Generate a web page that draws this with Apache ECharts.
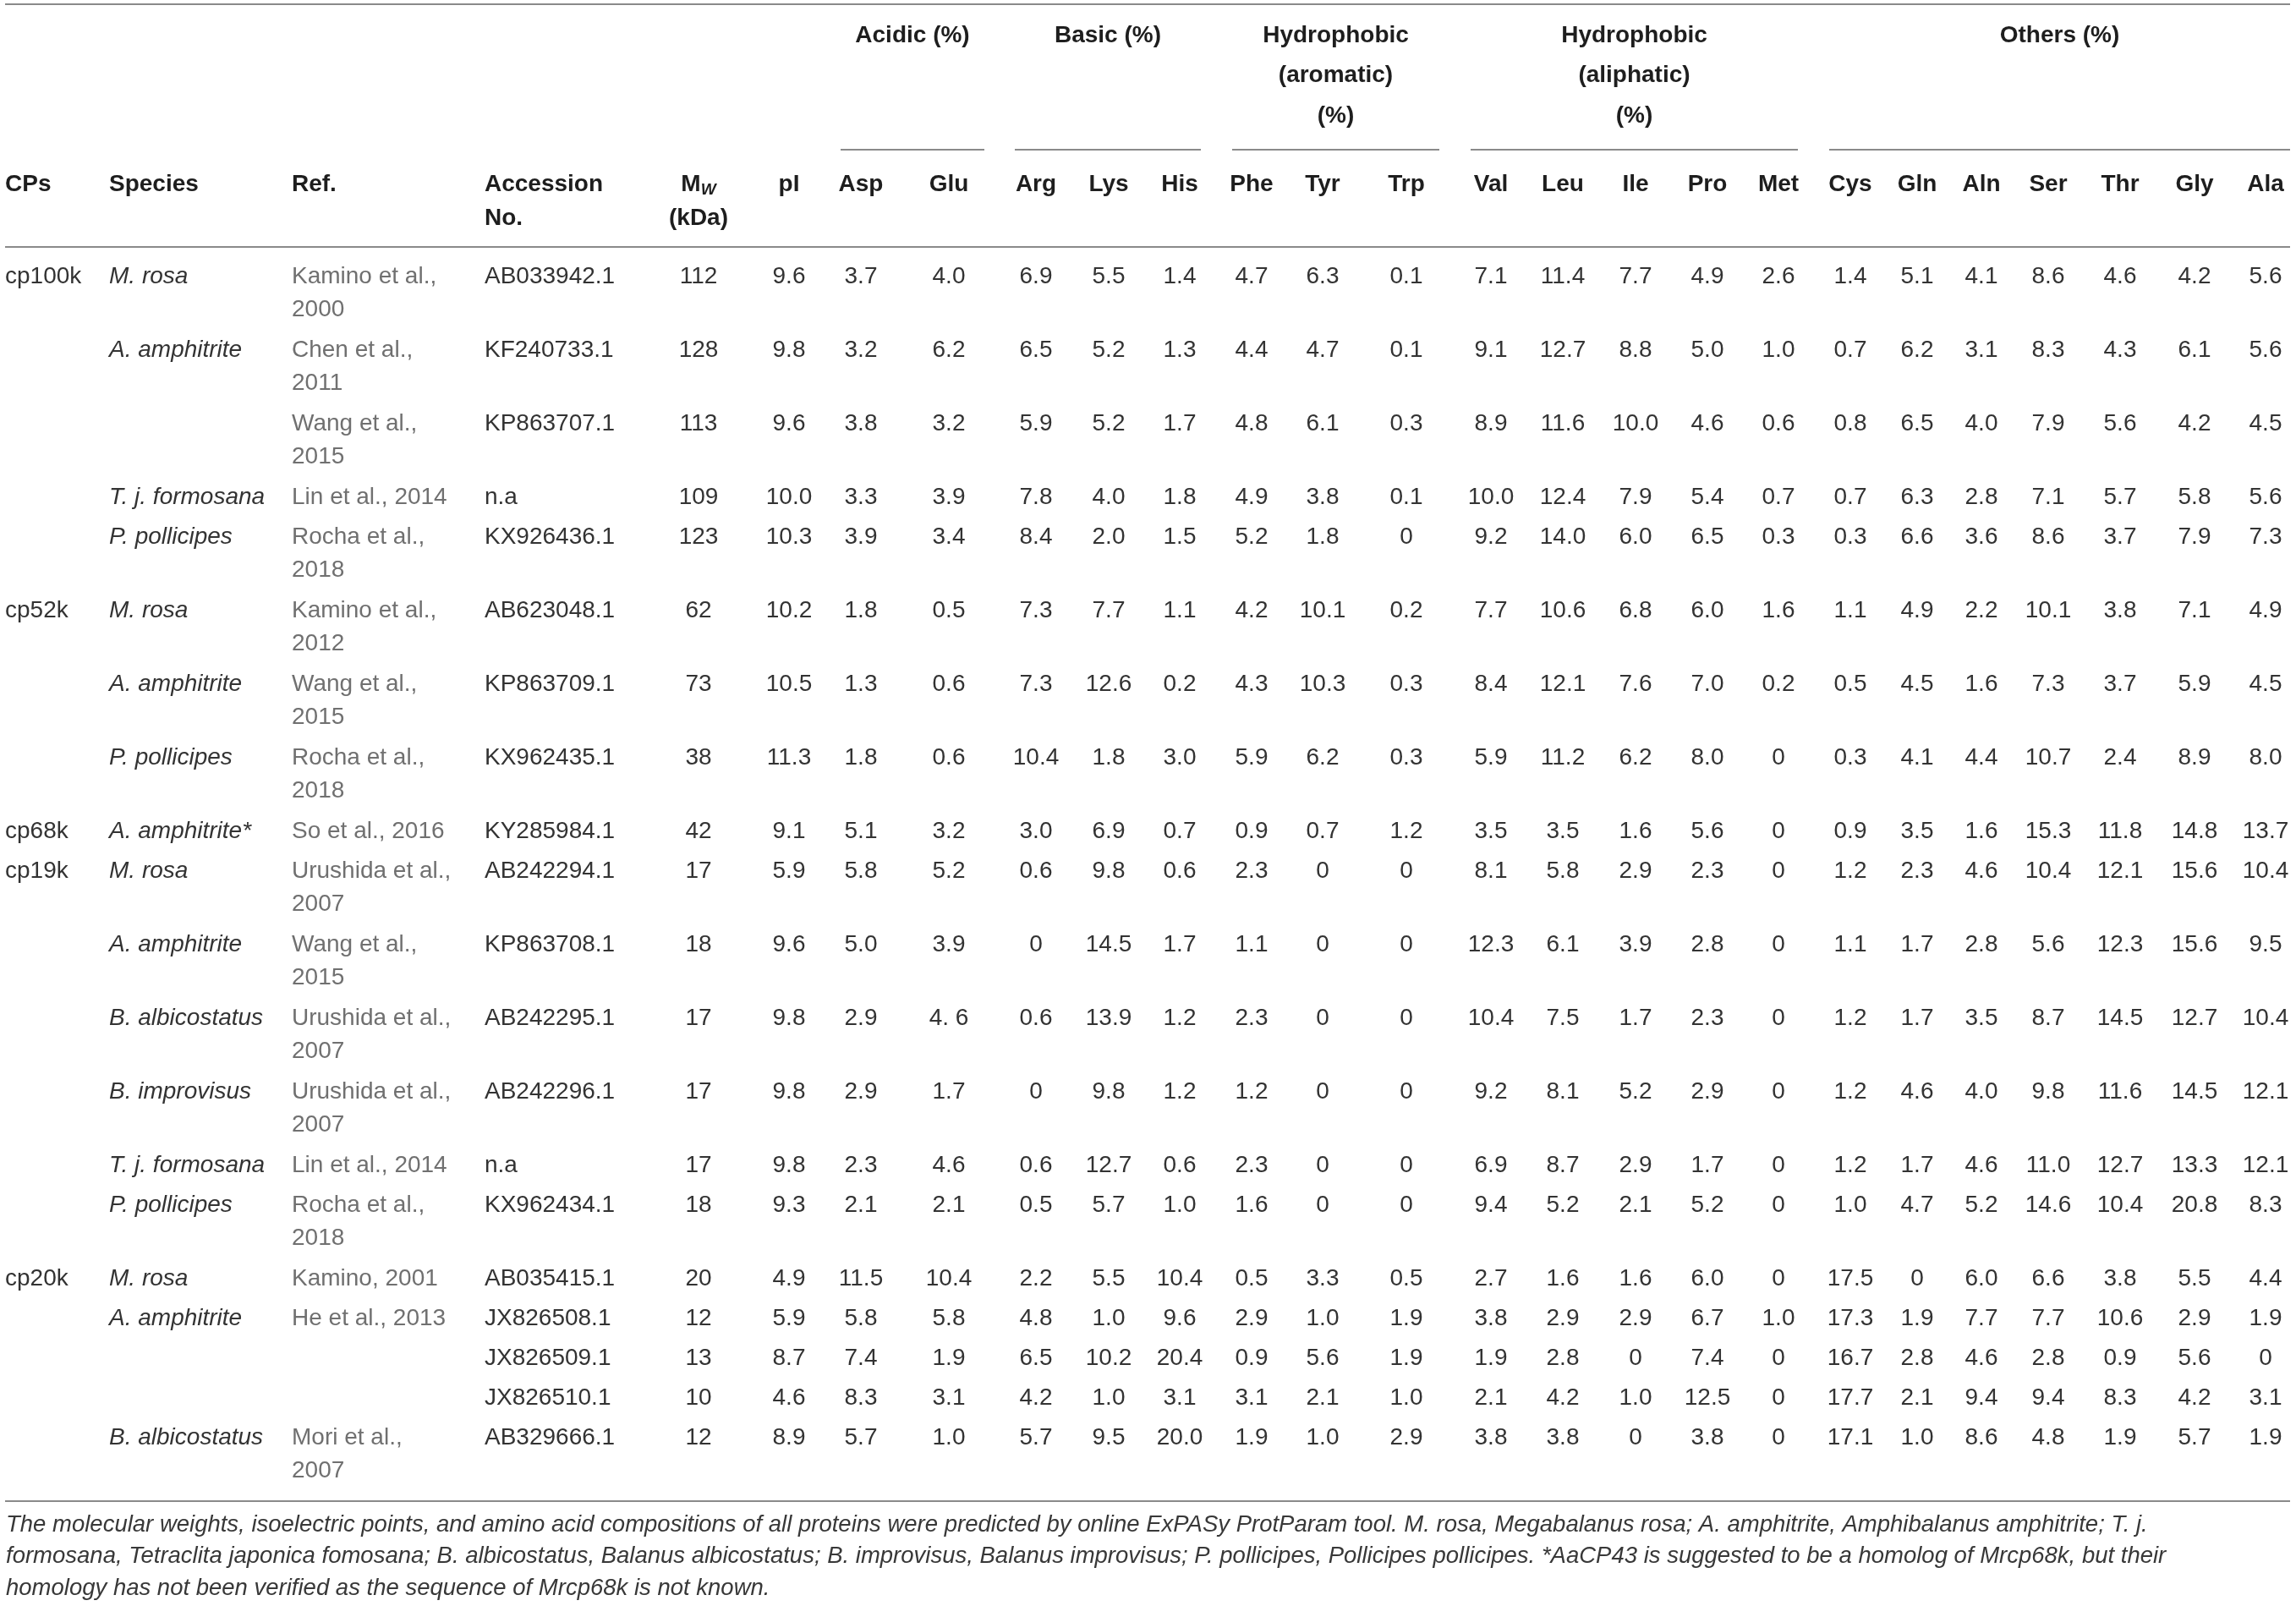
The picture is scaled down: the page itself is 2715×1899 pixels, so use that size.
<!DOCTYPE html>
<html>
<head>
<meta charset="utf-8">
<script src="https://cdn.jsdelivr.net/npm/echarts/dist/echarts.min.js"></script>
<style>
html,body{margin:0;padding:0;background:#ffffff;}
#chart{width:2715px;height:1899px;}
</style>
</head>
<body>
<div id="chart"></div>
<script>
// ================= DATA =================
const cps = ['cp100k','','','','','cp52k','','','cp68k','cp19k','','','','','','cp20k','','','',''];
const species = ['M. rosa','A. amphitrite','','T. j. formosana','P. pollicipes','M. rosa','A. amphitrite','P. pollicipes','A. amphitrite*','M. rosa','A. amphitrite','B. albicostatus','B. improvisus','T. j. formosana','P. pollicipes','M. rosa','A. amphitrite','','','B. albicostatus'];
const refs = ['Kamino et al., 2000','Chen et al., 2011','Wang et al., 2015','Lin et al., 2014','Rocha et al., 2018','Kamino et al., 2012','Wang et al., 2015','Rocha et al., 2018','So et al., 2016','Urushida et al., 2007','Wang et al., 2015','Urushida et al., 2007','Urushida et al., 2007','Lin et al., 2014','Rocha et al., 2018','Kamino, 2001','He et al., 2013','','','Mori et al., 2007'];
const accession = ['AB033942.1','KF240733.1','KP863707.1','n.a','KX926436.1','AB623048.1','KP863709.1','KX962435.1','KY285984.1','AB242294.1','KP863708.1','AB242295.1','AB242296.1','n.a','KX962434.1','AB035415.1','JX826508.1','JX826509.1','JX826510.1','AB329666.1'];
const mw = [112,128,113,109,123,62,73,38,42,17,18,17,17,17,18,20,12,13,10,12];
const pI = [9.6,9.8,9.6,10.0,10.3,10.2,10.5,11.3,9.1,5.9,9.6,9.8,9.8,9.8,9.3,4.9,5.9,8.7,4.6,8.9];
// Acidic (%)
const asp = [3.7,3.2,3.8,3.3,3.9,1.8,1.3,1.8,5.1,5.8,5.0,2.9,2.9,2.3,2.1,11.5,5.8,7.4,8.3,5.7];
const glu = [4.0,6.2,3.2,3.9,3.4,0.5,0.6,0.6,3.2,5.2,3.9,'4. 6',1.7,4.6,2.1,10.4,5.8,1.9,3.1,1.0];
// Basic (%)
const arg = [6.9,6.5,5.9,7.8,8.4,7.3,7.3,10.4,3.0,0.6,0,0.6,0,0.6,0.5,2.2,4.8,6.5,4.2,5.7];
const lys = [5.5,5.2,5.2,4.0,2.0,7.7,12.6,1.8,6.9,9.8,14.5,13.9,9.8,12.7,5.7,5.5,1.0,10.2,1.0,9.5];
const his = [1.4,1.3,1.7,1.8,1.5,1.1,0.2,3.0,0.7,0.6,1.7,1.2,1.2,0.6,1.0,10.4,9.6,20.4,3.1,20.0];
// Hydrophobic (aromatic) (%)
const phe = [4.7,4.4,4.8,4.9,5.2,4.2,4.3,5.9,0.9,2.3,1.1,2.3,1.2,2.3,1.6,0.5,2.9,0.9,3.1,1.9];
const tyr = [6.3,4.7,6.1,3.8,1.8,10.1,10.3,6.2,0.7,0,0,0,0,0,0,3.3,1.0,5.6,2.1,1.0];
const trp = [0.1,0.1,0.3,0.1,0,0.2,0.3,0.3,1.2,0,0,0,0,0,0,0.5,1.9,1.9,1.0,2.9];
// Hydrophobic (aliphatic) (%)
const val = [7.1,9.1,8.9,10.0,9.2,7.7,8.4,5.9,3.5,8.1,12.3,10.4,9.2,6.9,9.4,2.7,3.8,1.9,2.1,3.8];
const leu = [11.4,12.7,11.6,12.4,14.0,10.6,12.1,11.2,3.5,5.8,6.1,7.5,8.1,8.7,5.2,1.6,2.9,2.8,4.2,3.8];
const ile = [7.7,8.8,10.0,7.9,6.0,6.8,7.6,6.2,1.6,2.9,3.9,1.7,5.2,2.9,2.1,1.6,2.9,0,1.0,0];
const pro = [4.9,5.0,4.6,5.4,6.5,6.0,7.0,8.0,5.6,2.3,2.8,2.3,2.9,1.7,5.2,6.0,6.7,7.4,12.5,3.8];
const met = [2.6,1.0,0.6,0.7,0.3,1.6,0.2,0,0,0,0,0,0,0,0,0,1.0,0,0,0];
// Others (%)
const cys = [1.4,0.7,0.8,0.7,0.3,1.1,0.5,0.3,0.9,1.2,1.1,1.2,1.2,1.2,1.0,17.5,17.3,16.7,17.7,17.1];
const gln = [5.1,6.2,6.5,6.3,6.6,4.9,4.5,4.1,3.5,2.3,1.7,1.7,4.6,1.7,4.7,0,1.9,2.8,2.1,1.0];
const aln = [4.1,3.1,4.0,2.8,3.6,2.2,1.6,4.4,1.6,4.6,2.8,3.5,4.0,4.6,5.2,6.0,7.7,4.6,9.4,8.6];
const ser = [8.6,8.3,7.9,7.1,8.6,10.1,7.3,10.7,15.3,10.4,5.6,8.7,9.8,11.0,14.6,6.6,7.7,2.8,9.4,4.8];
const thr = [4.6,4.3,5.6,5.7,3.7,3.8,3.7,2.4,11.8,12.1,12.3,14.5,11.6,12.7,10.4,3.8,10.6,0.9,8.3,1.9];
const gly = [4.2,6.1,4.2,5.8,7.9,7.1,5.9,8.9,14.8,15.6,15.6,12.7,14.5,13.3,20.8,5.5,2.9,5.6,4.2,5.7];
const ala = [5.6,5.6,4.5,5.6,7.3,4.9,4.5,8.0,13.7,10.4,9.5,10.4,12.1,12.1,8.3,4.4,1.9,0,3.1,1.9];

const acidCols = [asp,glu,arg,lys,his,phe,tyr,trp,val,leu,ile,pro,met,cys,gln,aln,ser,thr,gly,ala];

// Header texts
const colHeaders = [['CPs'],['Species'],['Ref.'],['Accession','No.'],['{m|M}{w|W}','(kDa)'],['pI'],
  ['Asp'],['Glu'],['Arg'],['Lys'],['His'],['Phe'],['Tyr'],['Trp'],['Val'],['Leu'],['Ile'],['Pro'],['Met'],
  ['Cys'],['Gln'],['Aln'],['Ser'],['Thr'],['Gly'],['Ala']];
const groupHeaders = [['Acidic (%)'],['Basic (%)'],['Hydrophobic','(aromatic)','(%)'],['Hydrophobic','(aliphatic)','(%)'],['Others (%)']];
const footnote = [
  'The molecular weights, isoelectric points, and amino acid compositions of all proteins were predicted by online ExPASy ProtParam tool. M. rosa, Megabalanus rosa; A. amphitrite, Amphibalanus amphitrite; T. j.',
  'formosana, Tetraclita japonica fomosana; B. albicostatus, Balanus albicostatus; B. improvisus, Balanus improvisus; P. pollicipes, Pollicipes pollicipes. *AaCP43 is suggested to be a homolog of Mrcp68k, but their',
  'homology has not been verified as the sequence of Mrcp68k is not known.'
];

// ================= LAYOUT =================
const W = 2715, H = 1899;
const FONT = "'Liberation Sans', Arial, Helvetica, sans-serif";
const FS = 28;
const colX = [6,129,345,573,826,933,1018,1122,1225,1311,1395,1480,1564,1663,1763,1848,1934,2019,2103,2188,2267,2343,2422,2507,2595,2679];
const colAlign = colX.map((_, i) => i < 4 ? 'left' : 'center');
const groupSpan = [[994,1164],[1200,1420],[1457,1702],[1739,2126],[2163,2708]];
const tableLeft = 6, tableRight = 2708;
const topRuleY = 5, groupRuleY = 177, headRuleY = 292;
const groupTextY = 42, groupLineGap = 47.5;
const headTextY = 218, headLineGap = 40;
const firstRowY = 327, rowBase = 47, rowExtra = 40, lineGap = 39;
const bottomPad = 36, footTop = 28, footGap = 37.5;
const refWrapW = 194;

const styles = {
  body:   {fontSize: FS, fontFamily: FONT, fill: '#333333'},
  italic: {fontSize: FS, fontFamily: FONT, fill: '#333333', fontStyle: 'italic'},
  ref:    {fontSize: FS, fontFamily: FONT, fill: '#707070'},
  head:   {fontSize: FS, fontFamily: FONT, fill: '#1e1e1e', fontWeight: 'bold'},
  foot:   {fontSize: 26.6, fontFamily: FONT, fill: '#383838', fontStyle: 'italic'}
};
const headRich = {
  m: {fontSize: FS, fontFamily: FONT, fill: '#1e1e1e', fontWeight: 'bold', lineHeight: 32},
  w: {fontSize: 19, fontFamily: FONT, fill: '#1e1e1e', fontWeight: 'bold', fontStyle: 'italic', lineHeight: 32, verticalAlign: 'bottom'}
};

const mctx = document.createElement('canvas').getContext('2d');
function wrapText(text, width, font) {
  mctx.font = font;
  const words = text.split(' ');
  const lines = [];
  let cur = '';
  for (const w of words) {
    const t = cur ? cur + ' ' + w : w;
    if (cur && mctx.measureText(t).width > width) { lines.push(cur); cur = w; }
    else cur = t;
  }
  if (cur) lines.push(cur);
  return lines;
}
const fmt = v => typeof v === 'string' ? v : (v === 0 ? '0' : v.toFixed(1));

// fit footnote font so first line spans the table width
mctx.font = 'italic 26px ' + FONT;
styles.foot.fontSize = Math.min(27.5, 26 * (tableRight - tableLeft - 4) / mctx.measureText(footnote[0]).width);

const cells = [];
function addCell(x, y, text, style, align, rich) {
  cells.push({x, y, text, style, align, rich});
}

// group headers
groupHeaders.forEach((lines, g) => {
  const cx = (groupSpan[g][0] + groupSpan[g][1]) / 2;
  lines.forEach((t, k) => addCell(cx, groupTextY + k * groupLineGap, t, 'head', 'center'));
});
// column headers
colHeaders.forEach((lines, c) => {
  lines.forEach((t, k) => addCell(colX[c], headTextY + k * headLineGap, t, 'head', colAlign[c], t.indexOf('{') >= 0 ? headRich : null));
});
// body rows
const refFont = FS + 'px ' + FONT;
let y = firstRowY;
let lastY = y, lastLines = 1;
for (let i = 0; i < cps.length; i++) {
  const refLines = refs[i] ? wrapText(refs[i], refWrapW, refFont) : [];
  const n = Math.max(1, refLines.length);
  addCell(colX[0], y, cps[i], 'body', 'left');
  addCell(colX[1], y, species[i], 'italic', 'left');
  refLines.forEach((t, k) => addCell(colX[2], y + k * lineGap, t, 'ref', 'left'));
  addCell(colX[3], y, accession[i], 'body', 'left');
  addCell(colX[4], y, String(mw[i]), 'body', 'center');
  addCell(colX[5], y, pI[i].toFixed(1), 'body', 'center');
  acidCols.forEach((arr, a) => addCell(colX[6 + a], y, fmt(arr[i]), 'body', 'center'));
  lastY = y; lastLines = n;
  y += rowBase + rowExtra * (n - 1);
}
const bottomRuleY = lastY + lineGap * (lastLines - 1) + bottomPad;
footnote.forEach((t, k) => addCell(tableLeft + 1, bottomRuleY + footTop + k * footGap, t, 'foot', 'left'));

const rules = [[tableLeft, topRuleY, tableRight], [tableLeft, headRuleY, tableRight], [tableLeft, bottomRuleY, tableRight]];
groupSpan.forEach(s => rules.push([s[0], groupRuleY, s[1]]));

// ================= CHART =================
const chart = echarts.init(document.getElementById('chart'), null, {renderer: 'canvas'});
chart.setOption({
  backgroundColor: '#ffffff',
  animation: false,
  grid: {left: 0, right: 0, top: 0, bottom: 0},
  xAxis: {type: 'value', min: 0, max: W, show: false},
  yAxis: {type: 'value', min: 0, max: H, inverse: true, show: false},
  series: [
    {
      type: 'custom',
      name: 'rules',
      silent: true,
      clip: false,
      data: rules,
      renderItem: (params, api) => {
        const p1 = api.coord([api.value(0), api.value(1)]);
        const p2 = api.coord([api.value(2), api.value(1)]);
        return {type: 'line', shape: {x1: p1[0], y1: p1[1], x2: p2[0], y2: p2[1]},
                style: {stroke: '#8a8a8a', lineWidth: 2}};
      }
    },
    {
      type: 'custom',
      name: 'cells',
      silent: true,
      clip: false,
      data: cells.map(c => [c.x, c.y]),
      renderItem: (params, api) => {
        const c = cells[params.dataIndex];
        const p = api.coord([api.value(0), api.value(1)]);
        const st = Object.assign({}, styles[c.style], {text: c.text, align: c.align, verticalAlign: 'middle'});
        if (c.rich) st.rich = c.rich;
        return {type: 'text', x: p[0], y: p[1], style: st};
      }
    }
  ]
});
</script>
</body>
</html>
